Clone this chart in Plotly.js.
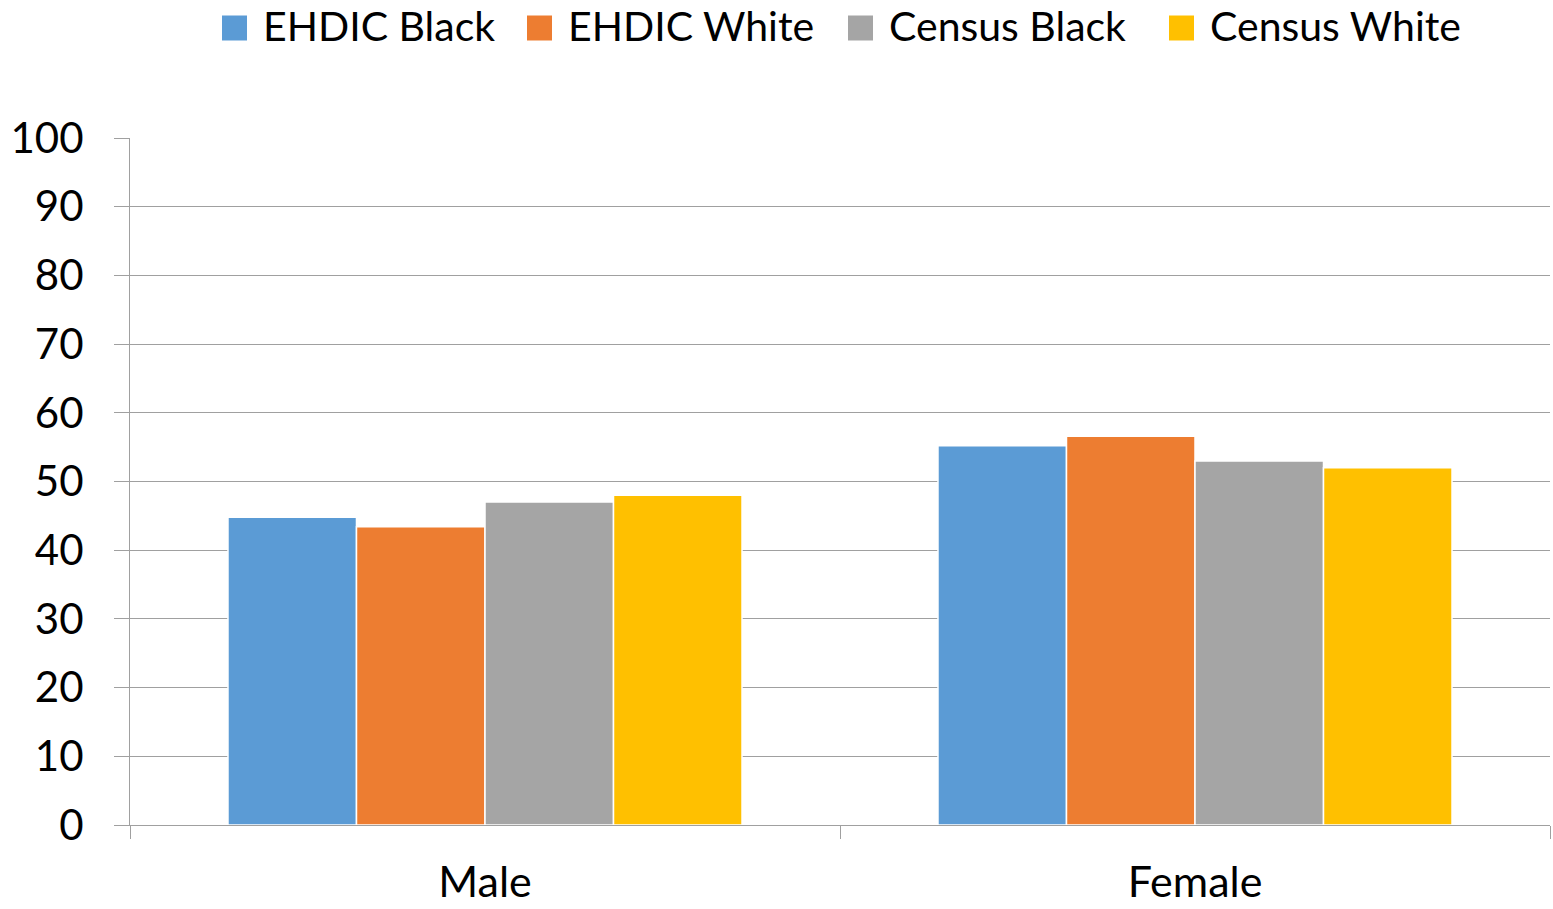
<!DOCTYPE html>
<html>
<head>
<meta charset="utf-8">
<script src="https://cdn.plot.ly/plotly-3.0.1.min.js"></script>
<style>
  html, body { margin: 0; padding: 0; background: #fff; }
  #chart { width: 1553px; height: 909px; }
</style>
</head>
<body>
<div id="chart"></div>
<script>
// Sex distribution (%) by race: EHDIC study vs Census
const categories = ['Male', 'Female'];
const seriesNames = ['EHDIC Black', 'EHDIC White', 'Census Black', 'Census White'];
const ehdicBlack = [44.8, 55.2];
const ehdicWhite = [43.4, 56.6];
const censusBlack = [47.0, 53.0];
const censusWhite = [48.0, 52.0];
const yTicks = [0, 10, 20, 30, 40, 50, 60, 70, 80, 90, 100];

const colors = ['#5B9BD5', '#ED7D31', '#A5A5A5', '#FFC000'];
const seriesValues = [ehdicBlack, ehdicWhite, censusBlack, censusWhite];

const font = 'Lato, "Open Sans", sans-serif';

// Plot frame in pixels (used to place the custom legend row above the plot)
const W = 1553, H = 909;
const M = { l: 130, r: 3, t: 138, b: 84 };
const plotW = W - M.l - M.r;
const plotH = H - M.t - M.b;
const px2x = px => (px - M.l) / plotW;
const py2y = py => (H - M.b - py) / plotH;

// Legend row: swatch left edge per entry, swatch size, row centre
const legendSwatchLeft = [222, 527, 848, 1169];
const swatch = 25;
const legendRowY = 28;

const traces = seriesValues.map((vals, i) => ({
  type: 'bar',
  name: seriesNames[i],
  x: categories,
  y: vals,
  marker: { color: colors[i], line: { color: '#ffffff', width: 1.5 } },
  hoverinfo: 'x+y+name',
  showlegend: false
}));

const shapes = legendSwatchLeft.map((left, i) => ({
  type: 'rect',
  xref: 'paper', yref: 'paper',
  x0: px2x(left), x1: px2x(left + swatch),
  y0: py2y(legendRowY + swatch / 2), y1: py2y(legendRowY - swatch / 2),
  fillcolor: colors[i],
  line: { width: 0 }
}));

const annotations = legendSwatchLeft.map((left, i) => ({
  xref: 'paper', yref: 'paper',
  x: px2x(left + swatch + 14),
  y: py2y(legendRowY - 2),
  xanchor: 'left', yanchor: 'middle',
  text: seriesNames[i],
  showarrow: false,
  font: { family: font, size: 41, color: '#000' }
}));

const layout = {
  width: W,
  height: H,
  margin: M,
  paper_bgcolor: '#ffffff',
  plot_bgcolor: '#ffffff',
  font: { family: font, size: 41, color: '#000' },
  barmode: 'group',
  bargap: 0.276,
  bargroupgap: 0,
  showlegend: false,
  shapes: shapes,
  annotations: annotations,
  xaxis: {
    type: 'category',
    tickson: 'boundaries',
    ticks: 'outside',
    ticklen: 13,
    tickcolor: '#A0A0A0',
    tickwidth: 1,
    showline: true,
    linecolor: '#A0A0A0',
    linewidth: 1,
    showgrid: false,
    tickfont: { family: font, size: 43, color: '#000' },
    ticklabelstandoff: 19
  },
  yaxis: {
    range: [0, 100],
    tickvals: yTicks,
    ticktext: yTicks.map(String),
    ticks: 'outside',
    ticklen: 15,
    tickcolor: '#A0A0A0',
    tickwidth: 1,
    showline: true,
    linecolor: '#A0A0A0',
    linewidth: 1,
    showgrid: true,
    gridcolor: '#A0A0A0',
    gridwidth: 1,
    zeroline: false,
    tickfont: { family: font, size: 42, color: '#000' },
    ticklabelstandoff: 22
  }
};

Plotly.newPlot('chart', traces, layout, { displayModeBar: false, staticPlot: true });
</script>
</body>
</html>
